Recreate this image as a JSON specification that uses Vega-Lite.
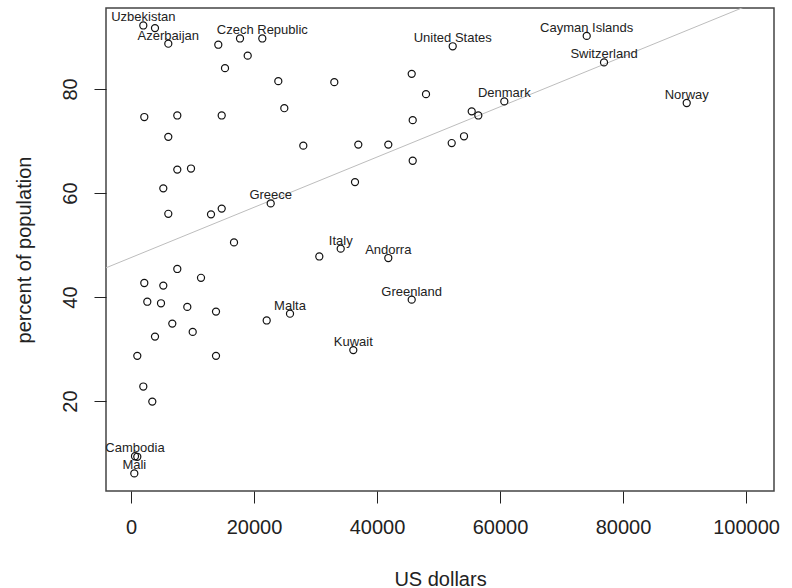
{
  "$schema": "https://vega.github.io/schema/vega-lite/v6.json",
  "width": 668,
  "height": 483,
  "autosize": "none",
  "padding": {"left": 106, "top": 8, "right": 18, "bottom": 97},
  "background": "white",
  "config": {
    "view": {"stroke": "#444", "strokeWidth": 1.5},
    "axis": {
      "grid": false,
      "domain": false,
      "tickColor": "#222",
      "tickSize": 12,
      "labelColor": "#222",
      "titleColor": "#222",
      "labelFont": "Liberation Sans, Arial, sans-serif",
      "titleFont": "Liberation Sans, Arial, sans-serif",
      "labelFontSize": 20,
      "titleFontSize": 20,
      "titleFontWeight": "normal"
    }
  },
  "datasets": {
    "pts": [
      {"name": "Uzbekistan", "gdp": 2000, "pct": 92.2},
      {"name": "", "gdp": 3900, "pct": 91.7},
      {"name": "Azerbaijan", "gdp": 6065, "pct": 88.7},
      {"name": "", "gdp": 14195, "pct": 88.5},
      {"name": "", "gdp": 17724, "pct": 89.7},
      {"name": "Czech Republic", "gdp": 21350, "pct": 89.7},
      {"name": "", "gdp": 18976, "pct": 86.4},
      {"name": "", "gdp": 15285, "pct": 84.0},
      {"name": "", "gdp": 23951, "pct": 81.5},
      {"name": "", "gdp": 24927, "pct": 76.3},
      {"name": "", "gdp": 2163, "pct": 74.6},
      {"name": "", "gdp": 7528, "pct": 74.9},
      {"name": "", "gdp": 14748, "pct": 74.9},
      {"name": "", "gdp": 6065, "pct": 70.8},
      {"name": "", "gdp": 28016, "pct": 69.1},
      {"name": "", "gdp": 7528, "pct": 64.5},
      {"name": "", "gdp": 9756, "pct": 64.7},
      {"name": "", "gdp": 5252, "pct": 60.9},
      {"name": "United States", "gdp": 52309, "pct": 88.2},
      {"name": "", "gdp": 33057, "pct": 81.3},
      {"name": "", "gdp": 45642, "pct": 82.9},
      {"name": "", "gdp": 47967, "pct": 79.0},
      {"name": "Denmark", "gdp": 60699, "pct": 77.6},
      {"name": "", "gdp": 55398, "pct": 75.7},
      {"name": "", "gdp": 56472, "pct": 74.9},
      {"name": "", "gdp": 45805, "pct": 74.0},
      {"name": "", "gdp": 54146, "pct": 70.9},
      {"name": "", "gdp": 52146, "pct": 69.6},
      {"name": "", "gdp": 36959, "pct": 69.3},
      {"name": "", "gdp": 41837, "pct": 69.3},
      {"name": "", "gdp": 45805, "pct": 66.2},
      {"name": "", "gdp": 36423, "pct": 62.1},
      {"name": "Cayman Islands", "gdp": 74098, "pct": 90.2},
      {"name": "Switzerland", "gdp": 76911, "pct": 85.1},
      {"name": "Norway", "gdp": 90358, "pct": 77.3},
      {"name": "Greece", "gdp": 22715, "pct": 58.0},
      {"name": "", "gdp": 6065, "pct": 56.0},
      {"name": "", "gdp": 13008, "pct": 55.9},
      {"name": "", "gdp": 14748, "pct": 57.0},
      {"name": "", "gdp": 16748, "pct": 50.5},
      {"name": "", "gdp": 30618, "pct": 47.8},
      {"name": "Italy", "gdp": 34098, "pct": 49.3},
      {"name": "Andorra", "gdp": 41837, "pct": 47.5},
      {"name": "", "gdp": 7528, "pct": 45.4},
      {"name": "", "gdp": 11382, "pct": 43.7},
      {"name": "", "gdp": 2163, "pct": 42.7},
      {"name": "", "gdp": 5252, "pct": 42.2},
      {"name": "", "gdp": 2650, "pct": 39.1},
      {"name": "", "gdp": 4878, "pct": 38.8},
      {"name": "", "gdp": 9154, "pct": 38.1},
      {"name": "", "gdp": 13821, "pct": 37.2},
      {"name": "", "gdp": 22065, "pct": 35.5},
      {"name": "Malta", "gdp": 25854, "pct": 36.8},
      {"name": "", "gdp": 6715, "pct": 34.9},
      {"name": "", "gdp": 10033, "pct": 33.3},
      {"name": "", "gdp": 3902, "pct": 32.4},
      {"name": "", "gdp": 1024, "pct": 28.7},
      {"name": "", "gdp": 13821, "pct": 28.7},
      {"name": "Greenland", "gdp": 45642, "pct": 39.5},
      {"name": "Kuwait", "gdp": 36146, "pct": 29.8},
      {"name": "", "gdp": 2000, "pct": 22.8},
      {"name": "", "gdp": 3463, "pct": 19.9},
      {"name": "Cambodia", "gdp": 650, "pct": 9.4},
      {"name": "", "gdp": 1024, "pct": 9.3},
      {"name": "Mali", "gdp": 537, "pct": 6.1}
    ],
    "fit": [
      {"gdp": -4065, "pct": 45.62},
      {"gdp": 104550, "pct": 98.09}
    ]
  },
  "layer": [
    {
      "data": {"name": "fit"},
      "mark": {"type": "line", "color": "#bdbdbd", "strokeWidth": 1, "clip": true},
      "encoding": {
        "x": {"field": "gdp", "type": "quantitative"},
        "y": {"field": "pct", "type": "quantitative"}
      }
    },
    {
      "data": {"name": "pts"},
      "mark": {"type": "point", "shape": "circle", "filled": false, "color": "#111", "strokeWidth": 1.2, "size": 50, "opacity": 1},
      "encoding": {
        "x": {
          "field": "gdp", "type": "quantitative",
          "scale": {"domain": [-4065, 104550], "nice": false, "zero": false},
          "axis": {"values": [0, 20000, 40000, 60000, 80000, 100000], "format": "d", "title": "US dollars", "labelPadding": 14, "titlePadding": 32}
        },
        "y": {
          "field": "pct", "type": "quantitative",
          "scale": {"domain": [2.72, 95.56], "nice": false, "zero": false},
          "axis": {"values": [20, 40, 60, 80], "title": "percent of population", "labelAngle": -90, "labelAlign": "center", "labelBaseline": "bottom", "labelPadding": 14, "titlePadding": 26}
        }
      }
    },
    {
      "data": {"name": "pts"},
      "transform": [{"filter": "datum.name != ''"}],
      "mark": {"type": "text", "baseline": "alphabetic", "align": "center", "dy": -4, "fontSize": 13, "font": "Liberation Sans, Arial, sans-serif", "color": "#222"},
      "encoding": {
        "x": {"field": "gdp", "type": "quantitative"},
        "y": {"field": "pct", "type": "quantitative"},
        "text": {"field": "name"}
      }
    }
  ]
}
